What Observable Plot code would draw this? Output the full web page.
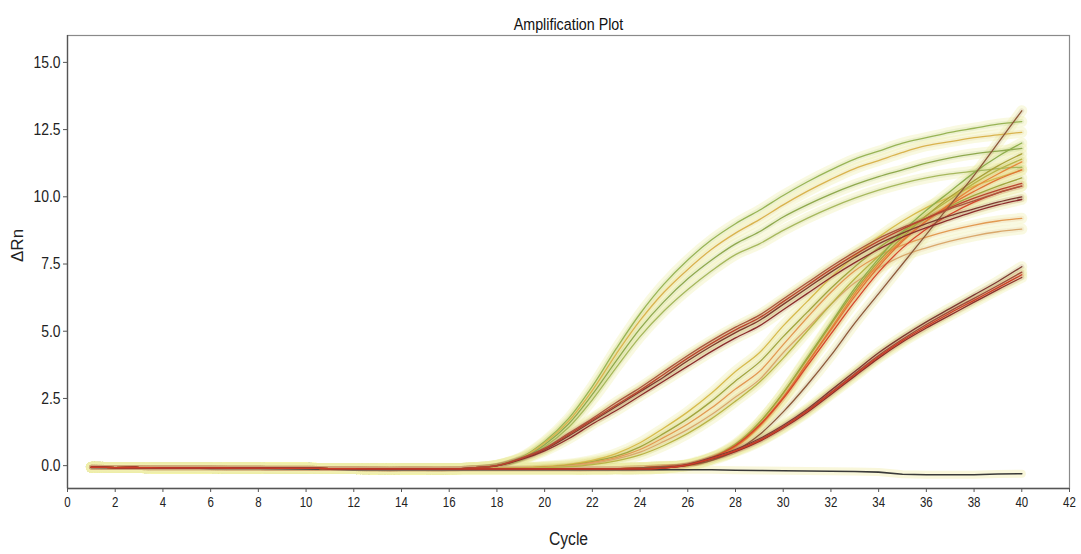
<!DOCTYPE html>
<html>
<head>
<meta charset="utf-8">
<script src="https://cdn.jsdelivr.net/npm/d3@7"></script>
<script src="https://cdn.jsdelivr.net/npm/@observablehq/plot@0.6"></script>
<style>
  body { margin: 0; background: #fff; }
  #chart svg { display: block; }
</style>
</head>
<body>
<div id="chart"></div>
<script>
// Amplification plot: ΔRn per PCR cycle for each well.
const cycles = [1,2,3,4,5,6,7,8,9,10,11,12,13,14,15,16,17,18,19,20,21,22,23,24,25,26,27,28,29,30,31,32,33,34,35,36,37,38,39,40];
const xTicks = [0,2,4,6,8,10,12,14,16,18,20,22,24,26,28,30,32,34,36,38,40,42];
const yTicks = [0, 2.5, 5, 7.5, 10, 12.5, 15];

// Shared baseline over cycles 1–16 (before any well leaves the noise floor)
const baseline = [-0.06,-0.07,-0.07,-0.08,-0.08,-0.08,-0.09,-0.09,-0.10,-0.10,-0.11,-0.11,-0.12,-0.12,-0.12,-0.12];

// Cycles 17–40 for each well
const early1 = [-0.08,0.02,0.30,0.90,1.75,2.95,4.35,5.65,6.75,7.65,8.40,9.00,9.50,10.05,10.55,11.00,11.40,11.70,12.00,12.20,12.40,12.55,12.70,12.80];
const early2 = [-0.08,0.01,0.27,0.85,1.65,2.80,4.15,5.40,6.45,7.30,8.05,8.65,9.15,9.70,10.20,10.65,11.05,11.35,11.65,11.90,12.05,12.20,12.30,12.40];
const early3 = [-0.09,0.00,0.24,0.78,1.55,2.65,3.90,5.10,6.10,6.95,7.65,8.25,8.70,9.25,9.70,10.10,10.45,10.75,11.00,11.25,11.45,11.60,11.70,11.80];
const early4 = [-0.09,-0.01,0.20,0.70,1.42,2.45,3.65,4.80,5.75,6.55,7.25,7.85,8.25,8.75,9.20,9.60,9.95,10.25,10.50,10.70,10.85,10.95,11.05,11.10];

const brown1 = [-0.08,0.00,0.25,0.60,1.10,1.65,2.20,2.75,3.30,3.90,4.45,4.95,5.40,6.00,6.60,7.20,7.75,8.25,8.65,9.00,9.30,9.55,9.80,10.00];
const brown2 = [-0.08,-0.01,0.22,0.55,1.00,1.55,2.05,2.60,3.15,3.70,4.25,4.75,5.20,5.80,6.40,7.00,7.55,8.05,8.50,8.85,9.15,9.45,9.70,9.90];
const brown3 = [-0.08,0.01,0.28,0.65,1.20,1.75,2.35,2.90,3.50,4.10,4.65,5.15,5.60,6.20,6.80,7.40,7.95,8.45,8.85,9.20,9.55,9.85,10.15,10.40];
const brown4 = [-0.08,0.00,0.26,0.62,1.15,1.70,2.25,2.80,3.40,4.00,4.55,5.05,5.50,6.10,6.70,7.30,7.85,8.35,8.80,9.20,9.60,9.95,10.25,10.50];

const mid1 = [-0.10,-0.10,-0.08,-0.03,0.05,0.20,0.45,0.85,1.40,2.00,2.70,3.50,4.20,5.20,6.10,7.00,7.80,8.50,9.10,9.60,10.00,10.40,10.70,11.00];
const mid2 = [-0.10,-0.10,-0.09,-0.05,0.02,0.15,0.35,0.70,1.20,1.75,2.40,3.15,3.85,4.80,5.70,6.60,7.40,8.10,8.70,9.20,9.65,10.05,10.40,10.70];
const mid3 = [-0.10,-0.10,-0.09,-0.06,0.00,0.12,0.30,0.60,1.05,1.55,2.15,2.85,3.50,4.50,5.50,6.45,7.25,7.80,8.20,8.50,8.75,8.95,9.10,9.20];
const mid4 = [-0.10,-0.10,-0.10,-0.07,-0.02,0.08,0.25,0.50,0.90,1.35,1.90,2.55,3.20,4.20,5.10,6.00,6.80,7.35,7.80,8.10,8.35,8.55,8.70,8.80];
const mid5 = [-0.10,-0.10,-0.10,-0.08,-0.04,0.04,0.18,0.40,0.75,1.20,1.75,2.40,3.10,4.00,5.00,6.00,6.95,7.80,8.60,9.30,9.90,10.50,11.00,11.40];

const late1 = [-0.12,-0.12,-0.12,-0.12,-0.12,-0.12,-0.11,-0.08,-0.04,0.02,0.20,0.55,1.15,2.00,3.00,4.10,5.30,6.40,7.50,8.60,9.70,10.80,12.00,13.20];
const late2 = [-0.12,-0.12,-0.12,-0.12,-0.12,-0.12,-0.11,-0.09,-0.05,0.00,0.25,0.75,1.60,2.70,4.00,5.30,6.60,7.70,8.70,9.50,10.20,10.90,11.50,12.00];
const late3 = [-0.12,-0.12,-0.12,-0.12,-0.12,-0.12,-0.11,-0.08,-0.04,0.00,0.25,0.70,1.45,2.50,3.80,5.10,6.40,7.50,8.40,9.10,9.75,10.35,10.85,11.30];
const late4 = [-0.12,-0.12,-0.12,-0.12,-0.12,-0.12,-0.11,-0.08,-0.04,0.00,0.30,0.80,1.60,2.70,3.95,5.25,6.50,7.60,8.50,9.30,10.00,10.60,11.15,11.60];
const late5 = [-0.12,-0.12,-0.12,-0.12,-0.12,-0.12,-0.11,-0.08,-0.03,0.02,0.30,0.75,1.50,2.50,3.70,4.90,6.10,7.20,8.10,8.80,9.35,9.80,10.15,10.40];
const late6 = [-0.12,-0.12,-0.12,-0.12,-0.12,-0.12,-0.11,-0.08,-0.04,0.01,0.28,0.72,1.50,2.55,3.80,5.05,6.30,7.40,8.35,9.10,9.70,10.20,10.65,11.00];

const slow1 = [-0.12,-0.12,-0.12,-0.12,-0.12,-0.12,-0.12,-0.12,-0.08,0.05,0.30,0.60,1.00,1.50,2.10,2.80,3.50,4.20,4.80,5.35,5.85,6.35,6.85,7.40];
const slow2 = [-0.12,-0.12,-0.12,-0.12,-0.12,-0.12,-0.12,-0.12,-0.09,0.03,0.27,0.56,0.95,1.45,2.05,2.72,3.42,4.10,4.70,5.25,5.75,6.22,6.70,7.20];
const slow3 = [-0.12,-0.12,-0.12,-0.12,-0.12,-0.12,-0.12,-0.12,-0.09,0.02,0.25,0.52,0.90,1.40,1.98,2.65,3.33,4.00,4.60,5.12,5.60,6.08,6.55,7.00];
const slow4 = [-0.12,-0.12,-0.12,-0.12,-0.12,-0.12,-0.12,-0.12,-0.09,0.03,0.26,0.55,0.93,1.43,2.02,2.70,3.38,4.05,4.65,5.18,5.68,6.15,6.62,7.10];

// No-template control, full 40 cycles
const ntc = [-0.07,-0.08,-0.08,-0.09,-0.09,-0.10,-0.10,-0.10,-0.11,-0.12,-0.13,-0.15,-0.15,-0.15,-0.15,-0.15,-0.15,-0.15,-0.15,-0.15,-0.15,-0.15,-0.15,-0.15,-0.15,-0.15,-0.15,-0.17,-0.18,-0.19,-0.20,-0.21,-0.22,-0.24,-0.32,-0.34,-0.34,-0.34,-0.31,-0.30];

const wells = [
  {name: "E1", color: "#98b455", values: early1},
  {name: "E2", color: "#d9b34e", values: early2},
  {name: "E3", color: "#8fa94e", values: early3},
  {name: "E4", color: "#a6b85c", values: early4},
  {name: "M1", color: "#d6bb4c", values: mid1},
  {name: "M2", color: "#a2a53e", values: mid2},
  {name: "M3", color: "#e29a52", values: mid3},
  {name: "M4", color: "#d9a86c", values: mid4},
  {name: "M5", color: "#b9b447", values: mid5},
  {name: "L2", color: "#8fae4c", values: late2},
  {name: "L3", color: "#e5883b", values: late3},
  {name: "L4", color: "#a9a23a", values: late4},
  {name: "L6", color: "#e07436", values: late6},
  {name: "L5", color: "#d5462c", values: late5},
  {name: "L1", color: "#8d5a3a", values: late1},
  {name: "B1", color: "#7e3a30", values: brown1},
  {name: "B2", color: "#8b2d2d", values: brown2},
  {name: "B3", color: "#a8563f", values: brown3},
  {name: "B4", color: "#b8442e", values: brown4},
  {name: "S1", color: "#7d3a34", values: slow1},
  {name: "S2", color: "#a04a3a", values: slow2},
  {name: "S3", color: "#8a2f2c", values: slow3},
  {name: "S4", color: "#cc3b26", values: slow4}
];

const rows = wells.flatMap(w => baseline.concat(w.values).map((v, i) => ({well: w.name, color: w.color, cycle: cycles[i], dRn: v})));
const ntcRows = ntc.map((v, i) => ({well: "NTC", cycle: cycles[i], dRn: v}));

const font = "'Liberation Sans', Arial, sans-serif";

const chart = Plot.plot({
  width: 1081,
  height: 554,
  marginLeft: 67,
  marginRight: 12,
  marginTop: 35,
  marginBottom: 66,
  x: {domain: [0, 42], ticks: xTicks},
  y: {domain: [-0.85, 16], ticks: yTicks},
  color: {type: "identity"},
  style: {fontFamily: font, color: "#222"},
  marks: [
    // soft halo around each trace
    Plot.line(rows, {x: "cycle", y: "dRn", z: "well", stroke: "#eeeeaa", strokeWidth: 11, strokeOpacity: 0.35, curve: "catmull-rom"}),
    Plot.line(rows, {x: "cycle", y: "dRn", z: "well", stroke: "color", strokeWidth: 5, strokeOpacity: 0.12, curve: "catmull-rom"}),
    Plot.line(ntcRows, {x: "cycle", y: "dRn", stroke: "#f4efb8", strokeWidth: 8, strokeOpacity: 0.5}),
    Plot.line(ntcRows, {x: "cycle", y: "dRn", stroke: "#3a3a3a", strokeWidth: 1.6}),
    Plot.line(rows, {x: "cycle", y: "dRn", z: "well", stroke: "color", strokeWidth: 1.3, curve: "catmull-rom"}),
    Plot.frame({stroke: "#8a8a8a", strokeWidth: 1.2}),
    Plot.axisX({ticks: xTicks, tickSize: 4, tickPadding: 5, fontSize: 14, label: null, stroke: "#555"}),
    Plot.axisY({ticks: yTicks, tickSize: 4, tickPadding: 3, fontSize: 17, label: null, tickFormat: d3.format(".1f"), stroke: "#555"}),
    Plot.ruleX([0], {stroke: "#555", strokeWidth: 1.3}),
    Plot.ruleY([-0.85], {stroke: "#555", strokeWidth: 1.3}),
    Plot.text(["Amplification Plot"], {frameAnchor: "top", dy: -18, fontSize: 17, fill: "#111"}),
    Plot.text(["Cycle"], {frameAnchor: "bottom", dy: 56, fontSize: 18, fill: "#222"}),
    Plot.text(["ΔRn"], {frameAnchor: "left", dx: -50, rotate: -90, fontSize: 17, fill: "#222"})
  ]
});

// Condense the lettering horizontally around each label's anchor
d3.select(chart).selectAll("text").each(function() {
  const t = this.getAttribute("transform");
  if (!t || this.textContent === "ΔRn") return;
  const k = this.textContent === "Amplification Plot" ? 0.84 : this.textContent === "Cycle" ? 0.87 : 0.82;
  this.setAttribute("transform", t + ` scale(${k},1)`);
});

document.getElementById("chart").appendChild(chart);
</script>
</body>
</html>
